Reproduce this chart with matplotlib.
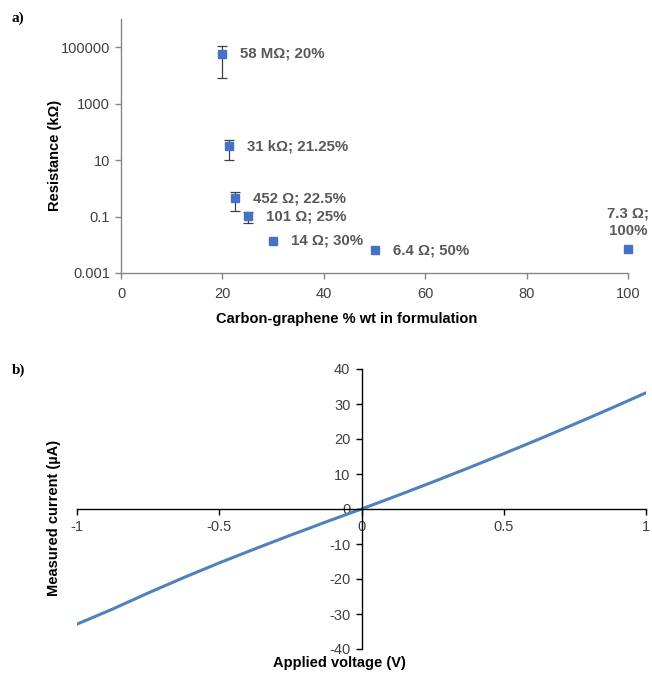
import numpy as np
import matplotlib
matplotlib.use("Agg")
from matplotlib import pyplot as plt
from matplotlib.ticker import FixedLocator, NullLocator

plt.rcParams['font.family'] = ['Liberation Sans', 'DejaVu Sans']
plt.rcParams['axes.unicode_minus'] = False

# a) resistance vs carbon-graphene content (resistance in kOhm)
carbon_pct = [20, 21.25, 22.5, 25, 30, 50, 100]
resistance = [58000, 31, 0.452, 0.101, 0.014, 0.0064, 0.0073]
res_err = [50000, 21, 0.3, 0.04, 0, 0, 0]
point_labels = ['58 MΩ; 20%', '31 kΩ; 21.25%', '452 Ω; 22.5%', '101 Ω; 25%',
                '14 Ω; 30%', '6.4 Ω; 50%', '7.3 Ω;\n100%']
a_yticks = [0.001, 0.1, 10, 1000, 100000]
a_yticklabels = ['0.001', '0.1', '10', '1000', '100000']
a_xticks = [0, 20, 40, 60, 80, 100]

# b) I-V sweep
voltage = [-1, -0.875, -0.75, -0.625, -0.5, -0.375, -0.25, -0.125, 0,
           0.125, 0.25, 0.375, 0.5, 0.625, 0.75, 0.875, 1]
current = [-32.9, -28.6, -24.0, -19.6, -15.4, -11.4, -7.5, -3.7, 0,
           3.8, 7.7, 11.7, 15.8, 20.0, 24.3, 28.7, 33.2]
b_xticks = [-1, -0.5, 0, 0.5, 1]
b_yticks = [-40, -30, -20, -10, 0, 10, 20, 30, 40]

W, H = 652, 675
fig = plt.figure(figsize=(W / 100, H / 100), dpi=100)

def px_axes(x0, y0, x1, y1):
    return fig.add_axes([x0 / W, 1 - y1 / H, (x1 - x0) / W, (y1 - y0) / H])

tick_col = '#404040'
lab_col = '#595959'
blue = '#4472C4'

# ---- panel a
ax = px_axes(121, 19, 628, 273)
xs_e = [x for x, e in zip(carbon_pct, res_err) if e > 0]
ys_e = [y for y, e in zip(resistance, res_err) if e > 0]
es = [e for e in res_err if e > 0]
ax.errorbar(xs_e, ys_e, yerr=es, fmt='none', ecolor='#404040',
            elinewidth=0.9, capsize=3.5, capthick=0.9, zorder=2)
ax.plot(carbon_pct, resistance, 's', color=blue, markersize=6.3, zorder=3,
        clip_on=False)
ax.set_yscale('log')
ax.set_ylim(0.001, 1e6)
ax.set_xlim(0, 100)
ax.yaxis.set_major_locator(FixedLocator(a_yticks))
ax.set_yticklabels(a_yticklabels)
ax.yaxis.set_minor_locator(NullLocator())
ax.set_xticks(a_xticks)
for s in ['top', 'right']:
    ax.spines[s].set_visible(False)
for s in ['left', 'bottom']:
    ax.spines[s].set_color('#868686')
    ax.spines[s].set_linewidth(1.0)
ax.tick_params(length=4, width=1, color='#868686', labelsize=10.5, labelcolor=tick_col)
ax.tick_params(axis='x', pad=6)
ax.tick_params(axis='y', pad=4)

for xv, yv, t in zip(carbon_pct, resistance, point_labels):
    if '\n' in t:
        ax.annotate(t, (xv, yv), xytext=(0, 8), textcoords='offset points',
                    ha='center', va='bottom', fontsize=10.8, fontweight='bold',
                    color=lab_col, linespacing=1.25)
    else:
        ax.annotate(t, (xv, yv), xytext=(13, 0), textcoords='offset points',
                    ha='left', va='center', fontsize=10.8, fontweight='bold',
                    color=lab_col)

ax.set_xlabel('Carbon-graphene % wt in formulation', fontsize=10.5, fontweight='bold')
ax.xaxis.set_label_coords(0.446, -0.154)
ax.set_ylabel('Resistance (kΩ)', fontsize=10.5, fontweight='bold')
ax.yaxis.set_label_coords(-0.117, 0.462)

# ---- panel b
bx = px_axes(77, 369, 646, 649)
bx.plot(voltage, current, color='#4F81BD', linewidth=2.2)
bx.set_xlim(-1, 1)
bx.set_ylim(-40, 40)
bx.set_xticks(b_xticks)
bx.set_xticklabels(['-1', '-0.5', '0', '0.5', '1'])
bx.set_yticks(b_yticks)
bx.spines['left'].set_position(('data', 0))
bx.spines['bottom'].set_position(('data', 0))
for s in ['top', 'right']:
    bx.spines[s].set_visible(False)
for s in ['left', 'bottom']:
    bx.spines[s].set_linewidth(1.0)
bx.tick_params(length=4, width=1, labelsize=10.5, labelcolor=tick_col, pad=4)

bx.set_xlabel('Applied voltage (V)', fontsize=10.5, fontweight='bold')
bx.xaxis.set_label_coords(0.462, -0.025)
bx.set_ylabel('Measured current (µA)', fontsize=10.5, fontweight='bold')
bx.yaxis.set_label_coords(-0.028, 0.468)

fig.text(12 / W, 1 - 18 / H, 'a)', fontsize=11, fontweight='bold',
         family='Liberation Serif', va='center', ha='left')
fig.text(12 / W, 1 - 370 / H, 'b)', fontsize=11, fontweight='bold',
         family='Liberation Serif', va='center', ha='left')

fig.savefig('out.png', dpi=100)
